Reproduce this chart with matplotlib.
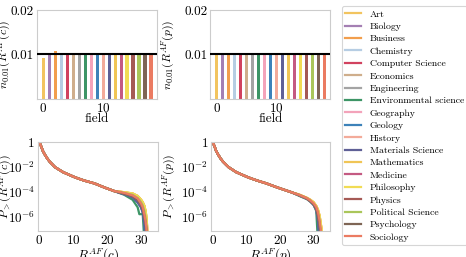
import matplotlib
matplotlib.use("Agg")
import matplotlib.pyplot as plt
import numpy as np

plt.rcParams['font.family'] = 'serif'
plt.rcParams['font.serif'] = ['cmr10', 'DejaVu Serif']
plt.rcParams['mathtext.fontset'] = 'cm'
plt.rcParams['axes.unicode_minus'] = False
plt.rcParams['axes.formatter.use_mathtext'] = True

FIELDS = ["Art", "Biology", "Business", "Chemistry", "Computer Science",
          "Economics", "Engineering", "Environmental science", "Geography",
          "Geology", "History", "Materials Science", "Mathematics", "Medicine",
          "Philosophy", "Physics", "Political Science", "Psychology", "Sociology"]

COLORS = ['#f2c45f', '#a47fb3', '#f29e4c', '#b6cde3', '#d1425f', '#cfae8c',
          '#a4a4a4', '#3d9566', '#f3a3ba', '#3d82b9', '#f3ab9a', '#5f6096',
          '#f0c556', '#c45a82', '#f1dc55', '#a55a55', '#aac65a', '#7e6555',
          '#eb7b62']

# share of top 1% per field
N001_C = [0.0093, 0.0100, 0.0108, 0.0100, 0.0100, 0.0104, 0.0099, 0.0104,
          0.0100, 0.0100, 0.0104, 0.0100, 0.0099, 0.0100, 0.0099, 0.0100,
          0.0104, 0.0101, 0.0103]
N001_P = [0.0099, 0.0100, 0.0104, 0.0100, 0.0100, 0.0100, 0.0100, 0.0101,
          0.0100, 0.0100, 0.0101, 0.0100, 0.0100, 0.0100, 0.0100, 0.0100,
          0.0103, 0.0101, 0.0100]
REF_LEVEL = 0.01

# CCDF, log10 values on a shared R grid (head shared, tails per field)
X_C = [0, 0.3, 0.6, 1, 1.6, 2.3, 3, 4.6, 7, 10.4, 13, 16.3, 19, 22,
       25, 27.5, 29, 29.5, 30, 30.5, 31, 31.4, 31.7, 32]
HEAD_C = [0, -0.2, -0.4, -0.7, -1.0, -1.3, -1.55, -2.0, -2.4, -2.8, -3.05,
          -3.3, -3.6, -3.9]
TAILS_C = [
    [-4.0, -4.1, -4.3, -4.45, -4.6, -4.8, -5.1, -5.6, -6.3, -8],    # Art
    [-4.15, -4.4, -4.8, -5.0, -5.2, -5.6, -6.5, -8, -8, -8],        # Biology
    [-4.0, -4.1, -4.3, -4.45, -4.6, -4.8, -5.1, -5.6, -6.3, -8],    # Business
    [-4.05, -4.2, -4.45, -4.6, -4.8, -5.05, -5.5, -6.1, -7.0, -8],  # Chemistry
    [-4.1, -4.3, -4.6, -4.8, -5.0, -5.3, -5.9, -6.5, -7.2, -8],     # CS
    [-4.05, -4.2, -4.45, -4.6, -4.8, -5.05, -5.5, -6.1, -7.0, -8],  # Economics
    [-4.05, -4.2, -4.45, -4.6, -4.8, -5.05, -5.5, -6.1, -7.0, -8],  # Engineering
    [-4.2, -4.6, -5.2, -5.75, -5.75, -5.75, -8, -8, -8, -8],        # Env
    [-4.05, -4.2, -4.45, -4.6, -4.8, -5.05, -5.5, -6.1, -7.0, -8],  # Geography
    [-4.15, -4.4, -4.8, -5.0, -5.2, -5.6, -6.5, -8, -8, -8],        # Geology
    [-4.05, -4.2, -4.45, -4.6, -4.8, -5.05, -5.5, -6.1, -7.0, -8],  # History
    [-4.15, -4.4, -4.8, -5.0, -5.2, -5.6, -6.5, -8, -8, -8],        # Materials
    [-4.0, -4.1, -4.3, -4.45, -4.6, -4.8, -5.1, -5.6, -6.3, -8],    # Math
    [-4.1, -4.3, -4.6, -4.8, -5.0, -5.3, -5.9, -6.5, -7.2, -8],     # Medicine
    [-4.0, -4.1, -4.3, -4.45, -4.6, -4.8, -5.1, -5.6, -6.3, -8],    # Philosophy
    [-4.1, -4.3, -4.6, -4.8, -5.0, -5.3, -5.9, -6.5, -7.2, -8],     # Physics
    [-4.05, -4.2, -4.45, -4.6, -4.8, -5.05, -5.5, -6.1, -7.0, -8],  # PolSci
    [-4.1, -4.3, -4.6, -4.8, -5.0, -5.3, -5.9, -6.5, -7.2, -8],     # Psychology
    [-4.05, -4.25, -4.5, -4.7, -4.9, -5.2, -5.8, -6.4, -7.2, -8],   # Sociology
]

X_P = [0, 0.3, 0.6, 1, 1.6, 2.3, 3, 4.7, 7, 10.4, 13, 16, 19, 23.4,
       25.8, 28, 29, 30, 30.8, 31.3, 31.8, 32.4, 33]
HEAD_P = [0, -0.2, -0.4, -0.7, -1.0, -1.3, -1.55, -2.0, -2.4, -2.8, -3.05,
          -3.3, -3.6, -4.0]
TAILS_P = [
    [-4.2, -4.45, -4.6, -4.8, -5.1, -5.4, -5.9, -7.0, -8],   # Art
    [-4.24, -4.5, -4.7, -4.95, -5.3, -5.8, -6.6, -8, -8],    # Biology
    [-4.2, -4.45, -4.6, -4.8, -5.1, -5.4, -5.9, -7.0, -8],   # Business
    [-4.24, -4.5, -4.7, -4.95, -5.3, -5.8, -6.6, -8, -8],    # Chemistry
    [-4.24, -4.5, -4.7, -4.95, -5.3, -5.8, -6.6, -8, -8],    # CS
    [-4.24, -4.5, -4.7, -4.95, -5.3, -5.8, -6.6, -8, -8],    # Economics
    [-4.24, -4.5, -4.7, -4.95, -5.3, -5.8, -6.6, -8, -8],    # Engineering
    [-4.3, -4.55, -4.75, -5.0, -5.5, -8, -8, -8, -8],        # Env
    [-4.24, -4.5, -4.7, -4.95, -5.3, -5.8, -6.6, -8, -8],    # Geography
    [-4.26, -4.52, -4.72, -5.0, -5.4, -6.2, -8, -8, -8],     # Geology
    [-4.24, -4.5, -4.7, -4.95, -5.3, -5.8, -6.6, -8, -8],    # History
    [-4.26, -4.52, -4.72, -5.0, -5.4, -6.2, -8, -8, -8],     # Materials
    [-4.2, -4.45, -4.6, -4.8, -5.1, -5.4, -5.9, -7.0, -8],   # Math
    [-4.24, -4.5, -4.7, -4.95, -5.3, -5.8, -6.6, -8, -8],    # Medicine
    [-4.2, -4.45, -4.6, -4.8, -5.1, -5.4, -5.9, -7.0, -8],   # Philosophy
    [-4.24, -4.5, -4.7, -4.95, -5.3, -5.8, -6.6, -8, -8],    # Physics
    [-4.22, -4.47, -4.65, -4.9, -5.2, -5.6, -6.3, -8, -8],   # PolSci
    [-4.24, -4.5, -4.7, -4.95, -5.3, -5.8, -6.6, -8, -8],    # Psychology
    [-4.22, -4.47, -4.65, -4.88, -5.2, -5.6, -6.3, -7.5, -8],# Sociology
]

YTICKS_LOG = [1, 1e-2, 1e-4, 1e-6]
YTICKLABELS_LOG = ['1', r'$10^{-2}$', r'$10^{-4}$', r'$10^{-6}$']

fig = plt.figure(figsize=(4.66, 2.57), dpi=100)
ax_tl = fig.add_axes([0.079, 0.615, 0.258, 0.346])
ax_tr = fig.add_axes([0.451, 0.615, 0.258, 0.346])
ax_bl = fig.add_axes([0.081, 0.101, 0.258, 0.346])
ax_br = fig.add_axes([0.453, 0.101, 0.256, 0.346])

SPINE = '#cccccc'
idx = np.arange(len(FIELDS))

for ax, vals, lab, lx in [(ax_tl, N001_C, r'$n_{0.01}(R^{AF}(c))$', -0.20),
                          (ax_tr, N001_P, r'$n_{0.01}(R^{AF}(p))$', -0.28)]:
    ax.bar(idx, vals, width=0.55, color=COLORS, zorder=2)
    ax.axhline(REF_LEVEL, color='black', lw=1.5, zorder=3)
    ax.set_xlim(-1.1, 19.0)
    ax.set_ylim(0, 0.02)
    ax.set_xticks([0, 10])
    ax.set_yticks([0.01, 0.02])
    ax.set_yticklabels(['0.01', '0.02'])
    ax.set_xlabel('field', fontsize=9.5, labelpad=-1)
    ax.set_ylabel(lab, fontsize=8.5)
    ax.yaxis.set_label_coords(lx, 0.5)

lines = []
for ax, xs, head, tails, lab, lx in [(ax_bl, X_C, HEAD_C, TAILS_C, r'$R^{AF}(c)$', -0.20),
                                     (ax_br, X_P, HEAD_P, TAILS_P, r'$R^{AF}(p)$', -0.28)]:
    lines = []
    for i, f in enumerate(FIELDS):
        logp = np.array(head + tails[i])
        l, = ax.plot(xs, 10.0 ** logp, color=COLORS[i], lw=1.6, label=f)
        lines.append(l)
    ax.set_yscale('log')
    ax.set_xlim(-0.5, 35)
    ax.set_ylim(8e-8, 1.0)
    ax.set_xticks([0, 10, 20, 30])
    ax.set_yticks(YTICKS_LOG)
    ax.set_yticklabels(YTICKLABELS_LOG)
    ax.minorticks_off()
    ax.set_xlabel(lab, fontsize=9.5, labelpad=0)
    ax.set_ylabel(lab.replace('$R', r'$P_>(R').replace(')$', '))$'), fontsize=8.5)
    ax.yaxis.set_label_coords(lx, 0.5)

for ax in [ax_tl, ax_tr, ax_bl, ax_br]:
    for s in ax.spines.values():
        s.set_color(SPINE)
        s.set_linewidth(0.8)
    ax.tick_params(length=0, labelsize=9.5, pad=2)

leg = fig.legend(handles=lines, labels=FIELDS, loc='upper left',
                 bbox_to_anchor=(0.734, 0.975), fontsize=7, frameon=True,
                 handlelength=1.6, labelspacing=0.37, borderpad=0.35,
                 handletextpad=0.9, borderaxespad=0.0)
leg.get_frame().set_edgecolor('#cccccc')
leg.get_frame().set_linewidth(0.8)

fig.savefig('out.png', dpi=100)
